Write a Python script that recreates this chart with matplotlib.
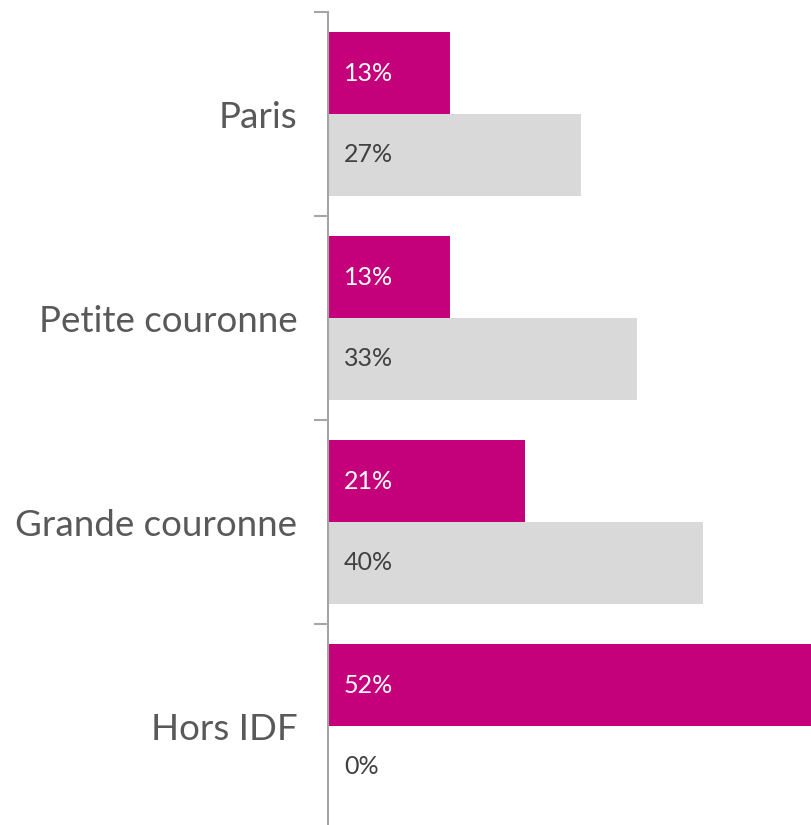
import numpy as np
import matplotlib.pyplot as plt

# données
categories = ['Paris', 'Petite couronne', 'Grande couronne', 'Hors IDF']
serie_rose = [13, 13, 21, 52]
serie_grise = [27, 33, 40, 0]

rose = '#C4007A'
gris = '#D9D9D9'
texte = '#595959'

plt.rcParams['font.family'] = ['Lato', 'DejaVu Sans']

fig = plt.figure(figsize=(8.11, 8.25), dpi=100)
ax = fig.add_axes([328 / 811, -3 / 825, 1 - 328 / 811, 816 / 825])

y = np.arange(len(categories))
h = 0.4
b1 = ax.barh(y - h / 2, serie_rose, height=h, color=rose)
b2 = ax.barh(y + h / 2, serie_grise, height=h, color=gris)

for rect, v in zip(b1, serie_rose):
    ax.text(1.7, rect.get_y() + rect.get_height() / 2, f'{v}%',
            va='center', ha='left', color='white', fontsize=18)
for rect, v in zip(b2, serie_grise):
    ax.text(1.7, rect.get_y() + rect.get_height() / 2, f'{v}%',
            va='center', ha='left', color='#404040', fontsize=18)

ax.set_xlim(0, 51.5)
ax.set_ylim(len(categories) - 0.5, -0.5)
ax.set_xticks([])
ax.set_yticks(y)
ax.set_yticklabels(categories, fontsize=26.5, color=texte)
ax.tick_params(axis='y', length=0, pad=22)
ax.set_yticks(np.arange(len(categories) + 1) - 0.5, minor=True)
ax.tick_params(axis='y', which='minor', length=10, width=1.5, color='#A6A6A6')

for s in ['top', 'right', 'bottom']:
    ax.spines[s].set_visible(False)
ax.spines['left'].set_color('#A6A6A6')
ax.spines['left'].set_linewidth(1.5)

fig.savefig('out.png', dpi=100)
